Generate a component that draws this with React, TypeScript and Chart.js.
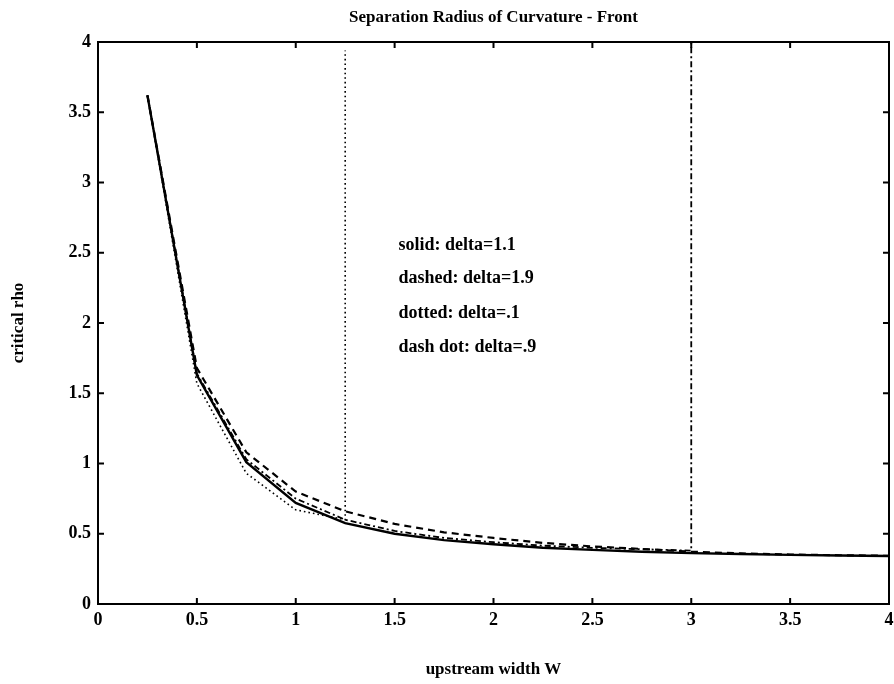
import React, { useEffect, useRef } from "react";
import { Chart, registerables } from "chart.js";

Chart.register(...registerables);

const titleText = "Separation Radius of Curvature - Front";
const xTitle = "upstream width W";
const yTitle = "critical rho";

const xTicks = [0, 0.5, 1, 1.5, 2, 2.5, 3, 3.5, 4];
const yTicks = [0, 0.5, 1, 1.5, 2, 2.5, 3, 3.5, 4];

// solid: delta=1.1
const solidX = [0.25, 0.5, 0.75, 1, 1.25, 1.5, 1.75, 2, 2.25, 2.5, 2.75, 3, 3.25, 3.5, 3.75, 4];
const solidY = [3.62, 1.63, 1.01, 0.72, 0.575, 0.5, 0.455, 0.425, 0.4, 0.385, 0.372, 0.362, 0.356, 0.35, 0.345, 0.342];

// dashed: delta=1.9
const dashedX = [0.25, 0.5, 0.75, 1, 1.25, 1.5, 1.75, 2, 2.25, 2.5, 2.75, 3, 3.25, 3.5, 3.75, 4];
const dashedY = [3.62, 1.68, 1.08, 0.8, 0.66, 0.57, 0.51, 0.47, 0.435, 0.41, 0.392, 0.372, 0.36, 0.352, 0.347, 0.343];

// dotted: delta=.1
const dottedX = [0.25, 0.5, 0.75, 1, 1.25, 1.25];
const dottedY = [3.62, 1.57, 0.93, 0.67, 0.6, 3.94];

// dash dot: delta=.9
const dashDotX = [0.25, 0.5, 0.75, 1, 1.25, 1.5, 1.75, 2, 2.25, 2.5, 2.75, 3, 3];
const dashDotY = [3.62, 1.64, 1.03, 0.75, 0.6, 0.52, 0.47, 0.44, 0.415, 0.4, 0.39, 0.38, 4.2];

const noteLines = ["solid: delta=1.1", "dashed: delta=1.9", "dotted: delta=.1", "dash dot: delta=.9"];
const noteX = 1.52;
const noteY = [2.555, 2.315, 2.07, 1.825];

const FONT = '"Liberation Serif", "Times New Roman", serif';

const toPts = (xs: number[], ys: number[]) => xs.map((x, i) => ({ x, y: ys[i] }));
const fmt = (v: any) => String(Number(v));

const framePlugin = {
  id: "frame",
  afterDatasetsDraw(chart: any) {
    const { ctx, chartArea, scales } = chart;
    const { left, right, top, bottom } = chartArea;
    const x = scales.x;
    const y = scales.y;
    ctx.save();
    ctx.strokeStyle = "#000";
    ctx.lineWidth = 2;
    ctx.strokeRect(left, top, right - left, bottom - top);
    const tl = 6;
    ctx.beginPath();
    xTicks.forEach((v) => {
      const px = x.getPixelForValue(v);
      ctx.moveTo(px, bottom);
      ctx.lineTo(px, bottom - tl);
      ctx.moveTo(px, top);
      ctx.lineTo(px, top + tl);
    });
    yTicks.forEach((v) => {
      const py = y.getPixelForValue(v);
      ctx.moveTo(left, py);
      ctx.lineTo(left + tl, py);
      ctx.moveTo(right, py);
      ctx.lineTo(right - tl, py);
    });
    ctx.stroke();
    ctx.fillStyle = "#000";
    ctx.font = `bold 18px ${FONT}`;
    ctx.textAlign = "left";
    ctx.textBaseline = "middle";
    noteLines.forEach((t, i) => {
      ctx.fillText(t, x.getPixelForValue(noteX), y.getPixelForValue(noteY[i]));
    });
    ctx.restore();
  },
};

export default function App() {
  const ref = useRef<HTMLCanvasElement | null>(null);

  useEffect(() => {
    document.body.style.margin = "0";
    const canvas = ref.current;
    if (!canvas) return;
    const base = {
      borderColor: "#000",
      backgroundColor: "#000",
      pointRadius: 0,
      pointHoverRadius: 0,
      tension: 0,
      fill: false,
    };
    const chart = new Chart(canvas, {
      type: "line",
      data: {
        datasets: [
          { ...base, label: "solid", data: toPts(solidX, solidY), borderWidth: 2.4 },
          { ...base, label: "dashed", data: toPts(dashedX, dashedY), borderWidth: 2.2, borderDash: [7, 5] },
          { ...base, label: "dotted", data: toPts(dottedX, dottedY), borderWidth: 1.6, borderDash: [1.6, 3] },
          { ...base, label: "dash dot", data: toPts(dashDotX, dashDotY), borderWidth: 1.8, borderDash: [6, 3, 2, 3] },
        ],
      },
      options: {
        responsive: false,
        animation: false,
        events: [],
        layout: { padding: { left: 0, right: 0, top: 0, bottom: 0 } },
        plugins: {
          legend: { display: false },
          tooltip: { enabled: false },
          title: {
            display: true,
            text: titleText,
            fullSize: false,
            color: "#000",
            font: { family: FONT, size: 17, weight: "bold", lineHeight: 1.2 },
            padding: { top: 7, bottom: 14.6 },
          },
        },
        scales: {
          x: {
            type: "linear",
            min: 0,
            max: 4,
            grid: { display: false, drawTicks: false },
            border: { display: false },
            afterBuildTicks: (s: any) => {
              s.ticks = xTicks.map((v) => ({ value: v }));
            },
            afterFit: (s: any) => {
              s.height = 80;
              s.paddingRight = 5;
              s.paddingLeft = 0;
            },
            ticks: {
              color: "#000",
              padding: 6,
              maxRotation: 0,
              autoSkip: false,
              callback: fmt,
              font: { family: FONT, size: 18, weight: "bold" },
            },
            title: {
              display: true,
              text: xTitle,
              color: "#000",
              font: { family: FONT, size: 17, weight: "bold", lineHeight: 1.2 },
              padding: { top: 0, bottom: 4 },
            },
          },
          y: {
            type: "linear",
            min: 0,
            max: 4,
            grid: { display: false, drawTicks: false },
            border: { display: false },
            afterBuildTicks: (s: any) => {
              s.ticks = yTicks.map((v) => ({ value: v }));
            },
            afterFit: (s: any) => {
              s.width = 98;
            },
            ticks: {
              color: "#000",
              padding: 7,
              autoSkip: false,
              callback: fmt,
              font: { family: FONT, size: 18, weight: "bold" },
            },
            title: {
              display: true,
              text: yTitle,
              color: "#000",
              font: { family: FONT, size: 17, weight: "bold", lineHeight: 1.2 },
              padding: { top: 8, bottom: 0 },
            },
          },
        },
      },
      plugins: [framePlugin],
    });
    return () => chart.destroy();
  }, []);

  return (
    <div style={{ width: 894, height: 684, background: "#fff" }}>
      <canvas ref={ref} width={894} height={684} style={{ display: "block" }} />
    </div>
  );
}
